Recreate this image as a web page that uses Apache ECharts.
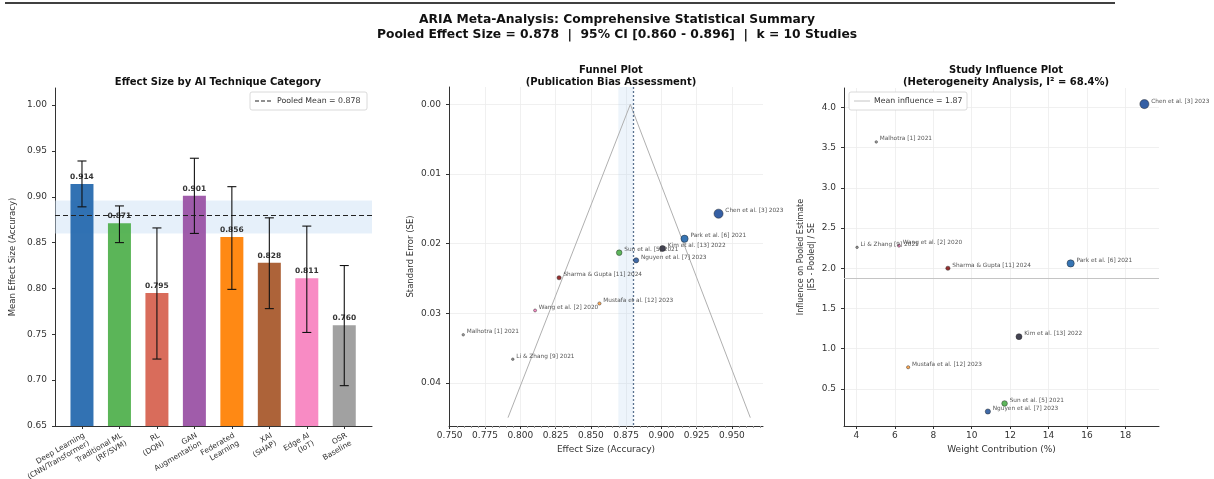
<!DOCTYPE html>
<html><head><meta charset="utf-8">
<script src="https://cdn.jsdelivr.net/npm/echarts@6/dist/echarts.min.js"></script>
<style>html,body{margin:0;padding:0;background:#fff}#c{width:1214px;height:479px}</style>
</head><body><div id="c"></div>
<script>
// ---- Left panel data ----
const categories = ['Deep Learning\n(CNN/Transformer)', 'Traditional ML\n(RF/SVM)', 'RL\n(DQN)', 'GAN\nAugmentation', 'Federated\nLearning', 'XAI\n(SHAP)', 'Edge AI\n(IoT)', 'OSR\nBaseline'];
const meanES = [0.914, 0.871, 0.795, 0.901, 0.856, 0.828, 0.811, 0.760];
const errLow = [0.889, 0.850, 0.723, 0.860, 0.799, 0.778, 0.752, 0.694];
const errHigh = [0.939, 0.890, 0.866, 0.942, 0.911, 0.877, 0.868, 0.825];
const barColors = ['#2166ac', '#4daf4a', '#d6604d', '#984ea3', '#ff7f00', '#a65628', '#f781bf', '#999999'];
const leftTicks = [0.65, 0.70, 0.75, 0.80, 0.85, 0.90, 0.95, 1.00];

// ---- Pooled summary ----
const pooled = 0.878, ciLow = 0.860, ciHigh = 0.896;

// ---- Studies ----
const studies = ['Chen et al. [3] 2023', 'Park et al. [6] 2021', 'Kim et al. [13] 2022', 'Nguyen et al. [7] 2023', 'Sun et al. [5] 2021', 'Sharma & Gupta [11] 2024', 'Mustafa et al. [12] 2023', 'Wang et al. [2] 2020', 'Malhotra [1] 2021', 'Li & Zhang [9] 2021'];
const effectSize = [0.9405, 0.9164, 0.9008, 0.8821, 0.8701, 0.8275, 0.8561, 0.8105, 0.7596, 0.7947];
const stdErr = [0.0157, 0.0193, 0.0207, 0.0224, 0.0213, 0.0249, 0.0286, 0.0296, 0.0331, 0.0366];
const weightPct = [18.99, 15.15, 12.46, 10.84, 11.71, 8.76, 6.69, 6.21, 5.03, 4.03];
const influence = [4.04, 2.06, 1.15, 0.22, 0.32, 2.00, 0.77, 2.28, 3.57, 2.26];
const studyColors = ['#1f4e9a', '#2166ac', '#2f2f3f', '#2b5a9e', '#4daf4a', '#8b1a1a', '#ff9f40', '#f781bf', '#999999', '#8c8c8c'];
const meanInfluence = 1.87;

// funnel 95% bounds
const funnelX = [0.7913, 0.878, 0.963];
const funnelSE = [0.045, 0.0, 0.045];

const funnelXTicks = [0.750, 0.775, 0.800, 0.825, 0.850, 0.875, 0.900, 0.925, 0.950];
const funnelYTicks = [0.00, 0.01, 0.02, 0.03, 0.04];
const inflXTicks = [4, 6, 8, 10, 12, 14, 16, 18];
const inflYTicks = [0.5, 1.0, 1.5, 2.0, 2.5, 3.0, 3.5, 4.0];

const FONT = 'DejaVu Sans';
const chart = echarts.init(document.getElementById('c'), null, {renderer: 'canvas'});

const axisLineStyle = {onZero: false, lineStyle: {color: '#333', width: 1}};
const tickLabel = {fontFamily: FONT, fontSize: 9, color: '#333'};
const gridLine = {show: true, lineStyle: {color: '#ececec', width: 0.8}};
const nameStyle = {fontFamily: FONT, fontSize: 9, color: '#333'};

function sizeOf(w) { return Math.max(2.5, w * 0.48); }

const option = {
  animation: false,
  backgroundColor: '#fff',
  textStyle: {fontFamily: FONT},
  title: [
    {text: 'ARIA Meta-Analysis: Comprehensive Statistical Summary\nPooled Effect Size = 0.878  |  95% CI [0.860 - 0.896]  |  k = 10 Studies',
     left: 612, top: 7, textAlign: 'center',
     textStyle: {fontFamily: FONT, fontSize: 12.3, fontWeight: 'bold', color: '#111', lineHeight: 15}},
    {text: 'Effect Size by AI Technique Category', left: 213, top: 72, textAlign: 'center',
     textStyle: {fontFamily: FONT, fontSize: 10, fontWeight: 'bold', color: '#111'}},
    {text: 'Funnel Plot\n(Publication Bias Assessment)', left: 606, top: 59, textAlign: 'center',
     textStyle: {fontFamily: FONT, fontSize: 10, fontWeight: 'bold', color: '#111', lineHeight: 12}},
    {text: 'Study Influence Plot\n(Heterogeneity Analysis, I² = 68.4%)', left: 1001, top: 59, textAlign: 'center',
     textStyle: {fontFamily: FONT, fontSize: 10, fontWeight: 'bold', color: '#111', lineHeight: 12}}
  ],
  grid: [
    {left: 55, top: 88, width: 317, height: 338, outerBoundsMode: 'none', containLabel: false},
    {left: 449, top: 87, width: 314, height: 339, outerBoundsMode: 'none', containLabel: false},
    {left: 844, top: 88, width: 315, height: 338, outerBoundsMode: 'none', containLabel: false}
  ],
  xAxis: [
    {gridIndex: 0, type: 'value', min: -0.72, max: 7.74,
     axisLine: axisLineStyle, splitLine: {show: false},
     axisTick: {customValues: [0,1,2,3,4,5,6,7], length: 3, lineStyle: {color: '#333'}},
     axisLabel: {customValues: [0,1,2,3,4,5,6,7], rotate: 30, verticalAlign: 'top', fontFamily: FONT, fontSize: 7.5, color: '#333', lineHeight: 9, margin: 5,
       formatter: v => categories[Math.round(v)] || ''}},
    {gridIndex: 1, type: 'value', min: 0.7495, max: 0.972,
     name: 'Effect Size (Accuracy)', nameLocation: 'middle', nameGap: 19, nameTextStyle: nameStyle,
     axisLine: axisLineStyle,
     axisTick: {customValues: funnelXTicks, length: 3, lineStyle: {color: '#333'}},
     minorTick: {show: true, splitNumber: 10, length: 2, lineStyle: {color: '#999'}},
     axisLabel: {customValues: funnelXTicks, ...tickLabel, margin: 5, formatter: v => v.toFixed(3)},
     splitLine: gridLine},
    {gridIndex: 2, type: 'value', min: 3.35, max: 19.75,
     name: 'Weight Contribution (%)', nameLocation: 'middle', nameGap: 19, nameTextStyle: nameStyle,
     axisLine: axisLineStyle,
     axisTick: {customValues: inflXTicks, length: 3, lineStyle: {color: '#333'}},
     axisLabel: {customValues: inflXTicks, ...tickLabel, margin: 5, formatter: v => String(v)},
     splitLine: gridLine}
  ],
  yAxis: [
    {gridIndex: 0, type: 'value', min: 0.65, max: 1.0186,
     name: 'Mean Effect Size (Accuracy)', nameLocation: 'middle', nameGap: 38, nameTextStyle: {...nameStyle, fontSize: 8.5},
     axisLine: {show: true, ...axisLineStyle},
     axisTick: {show: true, customValues: leftTicks, length: 3, lineStyle: {color: '#333'}},
     axisLabel: {customValues: leftTicks, ...tickLabel, formatter: v => v.toFixed(2)},
     splitLine: {show: false}},
    {gridIndex: 1, type: 'value', inverse: true, min: -0.0025, max: 0.0462,
     name: 'Standard Error (SE)', nameLocation: 'middle', nameGap: 34, nameTextStyle: {...nameStyle, fontSize: 8.5},
     axisLine: {show: true, ...axisLineStyle},
     axisTick: {show: true, customValues: funnelYTicks, length: 3, lineStyle: {color: '#333'}},
     axisLabel: {customValues: funnelYTicks, ...tickLabel, formatter: v => v.toFixed(2)},
     splitLine: gridLine},
    {gridIndex: 2, type: 'value', min: 0.04, max: 4.24,
     name: 'Influence on Pooled Estimate\n|ES - Pooled| / SE', nameLocation: 'middle', nameGap: 23,
     nameTextStyle: {fontFamily: FONT, fontSize: 8, color: '#333', lineHeight: 11},
     axisLine: {show: true, ...axisLineStyle},
     axisTick: {show: true, customValues: inflYTicks, length: 3, lineStyle: {color: '#333'}},
     axisLabel: {customValues: inflYTicks, ...tickLabel, formatter: v => v.toFixed(1)},
     splitLine: gridLine}
  ],
  series: [
    // Left: bars
    {type: 'bar', xAxisIndex: 0, yAxisIndex: 0, barWidth: 23, z: 2,
     data: meanES.map((v, i) => ({value: [i, v], itemStyle: {color: barColors[i], opacity: 0.92}})),
     label: {show: true, position: 'top', distance: 3, fontFamily: FONT, fontSize: 7.5, fontWeight: 'bold', color: '#222',
       formatter: p => p.value[1].toFixed(3)}},
    // CI band and pooled line over bars
    {type: 'line', xAxisIndex: 0, yAxisIndex: 0, data: [], z: 4,
     markArea: {silent: true, itemStyle: {color: 'rgba(200,222,245,0.45)'}, data: [[{yAxis: ciLow}, {yAxis: ciHigh}]]},
     markLine: {silent: true, symbol: 'none', label: {show: false}, lineStyle: {color: '#222', type: [5, 3], width: 1.2},
       data: [{yAxis: pooled}]}},
    // Error bars
    {type: 'custom', xAxisIndex: 0, yAxisIndex: 0, z: 5,
     data: meanES.map((v, i) => [i, errLow[i], errHigh[i]]),
     renderItem: (params, api) => {
       const x = api.value(0);
       const lo = api.coord([x, api.value(1)]);
       const hi = api.coord([x, api.value(2)]);
       const cap = 4.5, st = {stroke: '#111', lineWidth: 1.1};
       return {type: 'group', children: [
         {type: 'line', shape: {x1: lo[0], y1: lo[1], x2: hi[0], y2: hi[1]}, style: st},
         {type: 'line', shape: {x1: hi[0] - cap, y1: hi[1], x2: hi[0] + cap, y2: hi[1]}, style: st},
         {type: 'line', shape: {x1: lo[0] - cap, y1: lo[1], x2: lo[0] + cap, y2: lo[1]}, style: st}
       ]};
     }},
    // Funnel triangle
    {type: 'line', xAxisIndex: 1, yAxisIndex: 1, symbol: 'none', z: 2,
     data: funnelX.map((x, i) => [x, funnelSE[i]]),
     lineStyle: {color: '#b0b0b0', width: 1},
     markArea: {silent: true, itemStyle: {color: 'rgba(173,205,235,0.22)'}, data: [[{xAxis: 0.8695}, {xAxis: 0.880}]]},
     markLine: {silent: true, symbol: 'none', label: {show: false}, lineStyle: {color: '#5a7390', type: [2, 2], width: 1.3},
       data: [{xAxis: pooled}]}},
    // Funnel points
    {type: 'scatter', xAxisIndex: 1, yAxisIndex: 1, z: 5,
     data: effectSize.map((x, i) => ({value: [x, stdErr[i]], name: studies[i], symbolSize: sizeOf(weightPct[i]),
       itemStyle: {color: studyColors[i], borderColor: '#222', borderWidth: 0.5, opacity: 0.9}})),
     label: {show: true, position: 'right', distance: 2, offset: [0, -3], formatter: p => p.name,
       fontFamily: FONT, fontSize: 5.8, color: '#444'}},
    // Influence points
    {type: 'scatter', xAxisIndex: 2, yAxisIndex: 2, z: 5,
     data: weightPct.map((w, i) => ({value: [w, influence[i]], name: studies[i], symbolSize: sizeOf(w),
       itemStyle: {color: studyColors[i], borderColor: '#222', borderWidth: 0.5, opacity: 0.9}})),
     label: {show: true, position: 'right', distance: 2, offset: [0, -3], formatter: p => p.name,
       fontFamily: FONT, fontSize: 5.8, color: '#444'},
     markLine: {silent: true, symbol: 'none', label: {show: false}, lineStyle: {color: '#c4c4c4', type: 'solid', width: 1},
       data: [{yAxis: meanInfluence}]}}
  ],
  graphic: [
    {type: 'line', shape: {x1: 5, y1: 3, x2: 1115, y2: 3}, style: {stroke: '#000', lineWidth: 1.5}, z: 100},
    // left legend
    {type: 'rect', shape: {x: 250, y: 92, width: 117, height: 18, r: 2}, style: {fill: '#fff', stroke: '#d0d0d0', lineWidth: 0.8}, z: 100},
    {type: 'line', shape: {x1: 255, y1: 101, x2: 272, y2: 101}, style: {stroke: '#222', lineWidth: 1.2, lineDash: [4, 2]}, z: 101},
    {type: 'text', x: 277, y: 101, style: {text: 'Pooled Mean = 0.878', fontFamily: FONT, fontSize: 7.8, fill: '#333', textVerticalAlign: 'middle'}, z: 101},
    // right legend
    {type: 'rect', shape: {x: 849, y: 92, width: 118, height: 18, r: 2}, style: {fill: '#fff', stroke: '#d0d0d0', lineWidth: 0.8}, z: 100},
    {type: 'line', shape: {x1: 854, y1: 101, x2: 870, y2: 101}, style: {stroke: '#c4c4c4', lineWidth: 1}, z: 101},
    {type: 'text', x: 874, y: 101, style: {text: 'Mean influence = 1.87', fontFamily: FONT, fontSize: 7.8, fill: '#333', textVerticalAlign: 'middle'}, z: 101}
  ]
};
chart.setOption(option);
</script>
</body></html>
